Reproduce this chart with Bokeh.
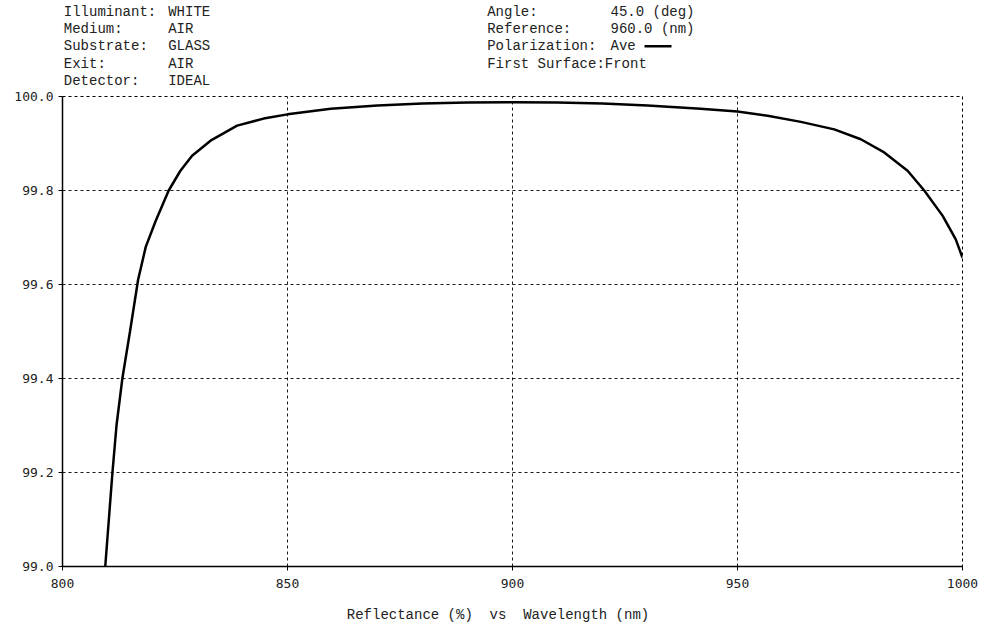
from bokeh.plotting import figure
from bokeh.layouts import column
from bokeh.models import FixedTicker, NumeralTickFormatter, Range1d
from bokeh.core.properties import value
from bokeh.embed import file_html
from bokeh.resources import INLINE

# ---- data ----
wavelength = [809.5, 810.3, 811.1, 812.0, 813.3, 815.0, 816.8, 818.5, 820.7, 823.6,
              826.2, 828.8, 832.9, 838.8, 844.7, 850.0, 859.6, 870.0, 880.0, 890.0,
              900.0, 910.0, 920.0, 930.0, 941.8, 950.0, 956.7, 964.1, 971.5, 977.4,
              982.6, 987.8, 991.5, 995.6, 998.5, 1000.0]
reflectance = [99.0, 99.1, 99.2, 99.3, 99.4, 99.5, 99.61, 99.68, 99.735, 99.80,
               99.842, 99.874, 99.906, 99.938, 99.953, 99.962, 99.974, 99.981, 99.985, 99.987,
               99.988, 99.987, 99.985, 99.981, 99.974, 99.968, 99.959, 99.946, 99.930, 99.909,
               99.881, 99.842, 99.800, 99.746, 99.696, 99.657]
x_ticks = [800, 850, 900, 950, 1000]
y_ticks = [99.0, 99.2, 99.4, 99.6, 99.8, 100.0]
left_keys = ["Illuminant:", "Medium:", "Substrate:", "Exit:", "Detector:"]
left_vals = ["WHITE", "AIR", "GLASS", "AIR", "IDEAL"]
right_keys = ["Angle:", "Reference:", "Polarization:", "First Surface:Front"]
right_vals = ["45.0 (deg)", "960.0 (nm)", "Ave", ""]
axis_title = "Reflectance (%)\u00a0 vs\u00a0 Wavelength (nm)"

FONT = "Liberation Mono"
TXT = "#222222"
W = 992


def blank(height):
    f = figure(frame_width=W, frame_height=height, output_backend="svg", toolbar_location=None,
               x_range=Range1d(0, W), y_range=Range1d(height, 0),
               min_border_left=0, min_border_right=0, min_border_top=0, min_border_bottom=0)
    f.frame_align = False
    f.axis.visible = False
    f.grid.visible = False
    f.outline_line_color = None
    f.background_fill_color = "white"
    f.border_fill_color = "white"
    return f


# ---- header (layout coordinates in pixels) ----
header = blank(88)
row_y = [11.0 + 17.35 * i for i in range(5)]
header.text(x=[63.3] * len(left_keys), y=row_y[:len(left_keys)], text=left_keys,
            text_font=value(FONT), text_font_size="14px", text_baseline="middle", text_color=TXT)
header.text(x=[167.7] * len(left_vals), y=row_y[:len(left_vals)], text=left_vals,
            text_font=value(FONT), text_font_size="14px", text_baseline="middle", text_color=TXT)
header.text(x=[486.7] * len(right_keys), y=row_y[:len(right_keys)], text=right_keys,
            text_font=value(FONT), text_font_size="14px", text_baseline="middle", text_color=TXT)
rv = [(v, y) for v, y in zip(right_vals, row_y) if v]
header.text(x=[610.0] * len(rv), y=[y for _, y in rv], text=[v for v, _ in rv],
            text_font=value(FONT), text_font_size="14px", text_baseline="middle", text_color=TXT)
header.segment(x0=[644.0], y0=[row_y[2]], x1=[671.0], y1=[row_y[2]],
               line_color="black", line_width=2.5)

# ---- main chart ----
p = figure(frame_width=900, frame_height=470, output_backend="svg", toolbar_location=None,
           x_range=Range1d(800, 1000), y_range=Range1d(99.0, 100.0),
           min_border_left=62, min_border_right=W - 962, min_border_top=8, min_border_bottom=30)
p.frame_align = False
p.background_fill_color = "white"
p.border_fill_color = "white"
p.outline_line_color = "black"
p.outline_line_dash = "3 3"
p.outline_line_width = 1

p.line(wavelength, reflectance, line_color="black", line_width=2.5)

for ax in (p.xaxis[0], p.yaxis[0]):
    ax.axis_line_color = "black"
    ax.axis_line_width = 1.5
    ax.major_tick_in = 0
    ax.major_tick_out = 4
    ax.minor_tick_in = 0
    ax.minor_tick_out = 0
    ax.major_label_text_font = "DejaVu Sans Mono"
    ax.major_label_text_font_size = "13px"
    ax.major_label_text_color = TXT
p.xaxis.ticker = FixedTicker(ticks=x_ticks)
p.yaxis.ticker = FixedTicker(ticks=y_ticks)
p.yaxis.formatter = NumeralTickFormatter(format="0.0")
p.xaxis.major_label_standoff = 8
p.yaxis.major_label_standoff = 5

p.xgrid.ticker = FixedTicker(ticks=x_ticks)
p.ygrid.ticker = FixedTicker(ticks=y_ticks)
for g in (p.xgrid[0], p.ygrid[0]):
    g.grid_line_color = "black"
    g.grid_line_dash = "3 3"
    g.grid_line_width = 1
    g.grid_line_alpha = 0.9

# ---- footer (axis title) ----
footer = blank(32)
footer.text(x=[497.5], y=[18.0], text=[axis_title], text_font=value(FONT),
            text_font_size="14px", text_align="center", text_baseline="middle", text_color=TXT)

layout = column(header, p, footer, spacing=0)
open("out.html", "w").write(file_html(layout, INLINE))
